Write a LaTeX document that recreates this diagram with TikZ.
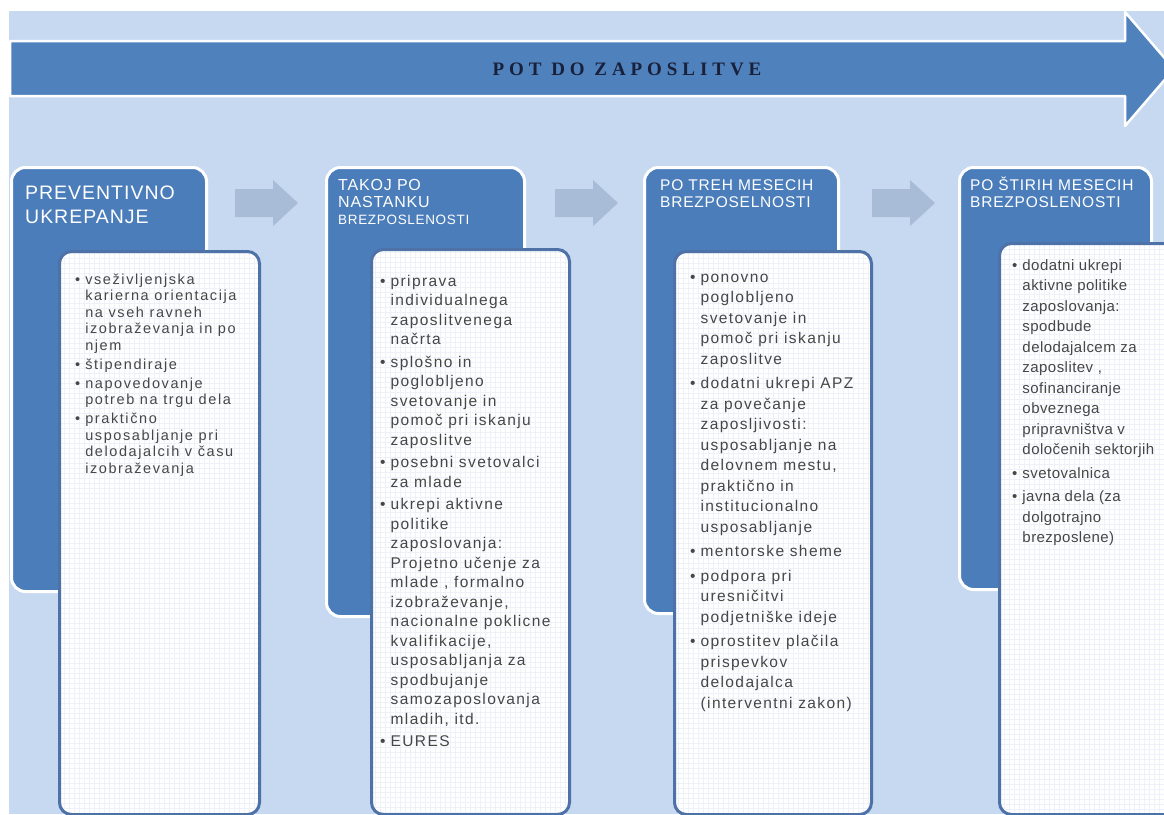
\documentclass[tikz,border=0pt]{standalone}
\usepackage{fontspec}
\setmainfont{Liberation Sans}
\newfontfamily\bannerfont[LetterSpace=26]{Liberation Serif}
\newfontfamily\headfont[LetterSpace=5]{Liberation Sans}
\newfontfamily\itemfont[LetterSpace=9]{Liberation Sans}
\newfontfamily\wideitemfont[LetterSpace=11]{Liberation Sans}
\newfontfamily\narrowitemfont[LetterSpace=3]{Liberation Sans}
\usepackage{tikz}
\usetikzlibrary{positioning}

\definecolor{pagebg}{RGB}{198,217,241}
\definecolor{bandblue}{RGB}{79,129,189}
\definecolor{headblue}{RGB}{74,125,186}
\definecolor{listedge}{RGB}{78,113,168}
\definecolor{stepgrey}{RGB}{168,188,216}
\definecolor{itemgrey}{RGB}{70,70,70}
\definecolor{titlenavy}{RGB}{25,32,58}
\definecolor{gridtint}{RGB}{238,242,248}

\begin{document}
\begin{tikzpicture}[x=1pt,y=-1pt,line join=round,
    headbox/.style={draw=white,line width=3pt,fill=headblue,rounded corners=14pt,
      anchor=north west,inner sep=0pt},
    listbox/.style={draw=listedge,line width=3pt,fill=white,rounded corners=12pt,
      anchor=north west,inner sep=0pt,
      path picture={\draw[gridtint,line width=0.5pt] (path picture bounding box.south west)
        grid[step=5pt] (path picture bounding box.north east);}},
    headtxt/.style={anchor=base west,inner sep=0pt,text=white},
    itemtxt/.style={anchor=base west,inner sep=0pt,text=itemgrey},
    steparrow/.style={fill=stepgrey}]
  \useasboundingbox (0,0) rectangle (1164,814);
  \clip (0,0) rectangle (1164,814);
  \fill[pagebg] (9,11) rectangle (1164,814);

  % banner
  \draw[white,line width=2.5pt,fill=bandblue] (10,41) -- (1125,41) -- (1125,12) -- (1174,69)
    -- (1125,126) -- (1125,96) -- (10,96) -- cycle;
  \node (title) at (627,69) [text=titlenavy,font=\bannerfont\bfseries\fontsize{19}{19}\selectfont] {POT DO ZAPOSLITVE};

  % arrows between the stages
  \foreach \sx in {235,555,872}
    \fill[steparrow] (\sx,189) -- ({\sx+38},189) -- ({\sx+38},180) -- ({\sx+63},203)
      -- ({\sx+38},226) -- ({\sx+38},217) -- (\sx,217) -- cycle;

  % stage boxes
  \node (prevhead) at (10,166) [headbox,minimum width=195pt,minimum height=424pt] {};
  \node (takojhead) at (325,166) [headbox,minimum width=198pt,minimum height=449pt] {};
  \node (trehhead) at (643,166) [headbox,minimum width=194pt,minimum height=446pt] {};
  \node (stirihead) at (958,166) [headbox,minimum width=192pt,minimum height=422pt] {};

  \node (prevlist) at (58,250) [listbox,minimum width=200pt,minimum height=563pt] {};
  \node (takojlist) at (370,248) [listbox,minimum width=198pt,minimum height=565pt] {};
  \node (trehlist) at (673,250) [listbox,minimum width=197pt,minimum height=563pt] {};
  \node (stirilist) at (998,242) [listbox,minimum width=190pt,minimum height=571pt] {};

  % headings
  \node (prevtitle) at (25,199) [headtxt,font=\headfont\fontsize{19.5}{24}\selectfont]
    {\begin{tabular}[t]{@{}l@{}}PREVENTIVNO\\UKREPANJE\end{tabular}};
  \node (takojtitle) at (338,190) [headtxt,font=\headfont\fontsize{16}{17}\selectfont]
    {\begin{tabular}[t]{@{}l@{}}TAKOJ PO\\NASTANKU\\{\fontsize{13.5}{16}\selectfont BREZPOSLENOSTI}\end{tabular}};
  \node (trehtitle) at (660,190) [headtxt,font=\headfont\fontsize{15.5}{17}\selectfont]
    {\begin{tabular}[t]{@{}l@{}}PO TREH MESECIH\\BREZPOSELNOSTI\end{tabular}};
  \node (stirititle) at (970,190) [headtxt,font=\headfont\fontsize{15.5}{17}\selectfont]
    {\begin{tabular}[t]{@{}l@{}}PO ŠTIRIH MESECIH\\BREZPOSLENOSTI\end{tabular}};

  % measures
  \node (previtems) at (75,284) [itemtxt,font=\wideitemfont\fontsize{14.5}{16.5}\selectfont]
    {\begin{tabular}[t]{@{}l@{\hspace{5pt}}l@{}}
      \textbullet & vseživljenjska\\ & karierna orientacija\\ & na vseh ravneh\\
        & izobraževanja in po\\ & njem\\[2.5pt]
      \textbullet & štipendiraje\\[2.5pt]
      \textbullet & napovedovanje\\ & potreb na trgu dela\\[2.5pt]
      \textbullet & praktično\\ & usposabljanje pri\\ & delodajalcih v času\\ & izobraževanja
    \end{tabular}};
  \node (takojitems) at (380,286) [itemtxt,font=\itemfont\fontsize{15.5}{19.5}\selectfont]
    {\begin{tabular}[t]{@{}l@{\hspace{5pt}}l@{}}
      \textbullet & priprava\\ & individualnega\\ & zaposlitvenega\\ & načrta\\[3pt]
      \textbullet & splošno in\\ & poglobljeno\\ & svetovanje in\\ & pomoč pri iskanju\\
        & zaposlitve\\[3pt]
      \textbullet & posebni svetovalci\\ & za mlade\\[3pt]
      \textbullet & ukrepi aktivne\\ & politike\\ & zaposlovanja:\\ & Projetno učenje za\\
        & mlade , formalno\\ & izobraževanje,\\ & nacionalne poklicne\\ & kvalifikacije,\\
        & usposabljanja za\\ & spodbujanje\\ & samozaposlovanja\\ & mladih, itd.\\[3pt]
      \textbullet & EURES
    \end{tabular}};
  \node (trehitems) at (690,282) [itemtxt,font=\itemfont\fontsize{15.5}{20.5}\selectfont]
    {\begin{tabular}[t]{@{}l@{\hspace{5pt}}l@{}}
      \textbullet & ponovno\\ & poglobljeno\\ & svetovanje in\\ & pomoč pri iskanju\\
        & zaposlitve\\[4pt]
      \textbullet & dodatni ukrepi APZ\\ & za povečanje\\ & zaposljivosti:\\
        & usposabljanje na\\ & delovnem mestu,\\ & praktično in\\ & institucionalno\\
        & usposabljanje\\[4pt]
      \textbullet & mentorske sheme\\[4pt]
      \textbullet & podpora pri\\ & uresničitvi\\ & podjetniške ideje\\[4pt]
      \textbullet & oprostitev plačila\\ & prispevkov\\ & delodajalca\\ & (interventni zakon)
    \end{tabular}};
  \node (stiriitems) at (1012,270) [itemtxt,font=\narrowitemfont\fontsize{15}{20.5}\selectfont]
    {\begin{tabular}[t]{@{}l@{\hspace{5pt}}l@{}}
      \textbullet & dodatni ukrepi\\ & aktivne politike\\ & zaposlovanja:\\ & spodbude\\
        & delodajalcem za\\ & zaposlitev ,\\ & sofinanciranje\\ & obveznega\\
        & pripravništva v\\ & določenih sektorjih\\[3pt]
      \textbullet & svetovalnica\\[3pt]
      \textbullet & javna dela (za\\ & dolgotrajno\\ & brezposlene)
    \end{tabular}};
\end{tikzpicture}
\end{document}
